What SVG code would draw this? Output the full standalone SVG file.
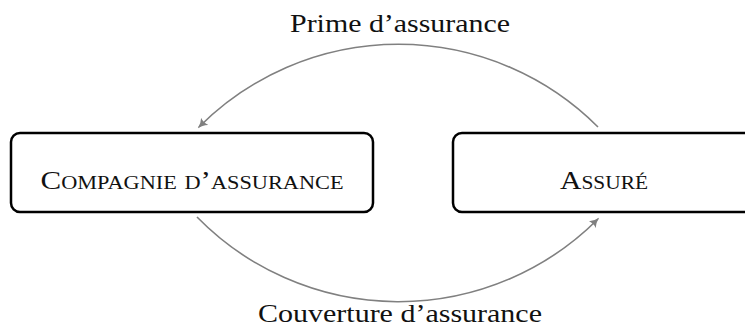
<svg xmlns="http://www.w3.org/2000/svg" width="745" height="331" viewBox="0 0 745 331">
<style>
.box{fill:#fff;stroke:#000;stroke-width:2.5}
.lbl{font-family:"Liberation Serif","DejaVu Serif",serif;fill:#111}
.sc{font-variant:small-caps;font-size:25px}
.edge{fill:none;stroke:#808080;stroke-width:1.6}
</style>
<defs>
<marker id="ah" viewBox="0 0 10 10" refX="8" refY="5" markerWidth="10" markerHeight="10" markerUnits="userSpaceOnUse" orient="auto">
<path d="M0,0 Q4,4 10,5 Q4,6 0,10 Q2,5 0,0Z" fill="#808080"/>
</marker>
</defs>
<g id="connectors">
<path class="edge" d="M598,127 A282,282 0 0 0 199,127" marker-end="url(#ah)"/>
<path class="edge" d="M197,217 A282,282 0 0 0 598,219" marker-end="url(#ah)"/>
<text class="lbl" x="400" y="32" font-size="25" text-anchor="middle" textLength="220" lengthAdjust="spacingAndGlyphs">Prime d’assurance</text>
<text class="lbl" x="400" y="322" font-size="25" text-anchor="middle" textLength="284" lengthAdjust="spacingAndGlyphs">Couverture d’assurance</text>
</g>
<g id="compagnie">
<rect class="box" x="11" y="133" width="362" height="79" rx="9"/>
<text class="lbl sc" x="192" y="189" text-anchor="middle" textLength="303" lengthAdjust="spacingAndGlyphs">Compagnie d’assurance</text>
</g>
<g id="assure">
<rect class="box" x="453" y="133" width="310" height="79" rx="9"/>
<text class="lbl sc" x="604" y="189" text-anchor="middle" textLength="88" lengthAdjust="spacingAndGlyphs">Assuré</text>
</g>
</svg>
